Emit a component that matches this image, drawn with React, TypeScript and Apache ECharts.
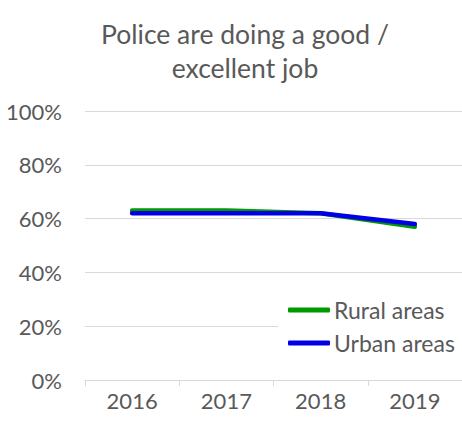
import React, { useEffect, useRef } from "react";
import * as echarts from "echarts";

const years = ["2016", "2017", "2018", "2019"];
const rural = [0.63, 0.63, 0.62, 0.57];
const urban = [0.62, 0.62, 0.62, 0.58];
const titleText = "Police are doing a good /\nexcellent job";

const FONT = "Lato, 'Noto Sans', sans-serif";
const GREY = "#595959";

export default function App() {
  const ref = useRef<HTMLDivElement>(null);
  useEffect(() => {
    const chart = echarts.init(ref.current!, null, { renderer: "svg" });
    chart.setOption({
      animation: false,
      backgroundColor: "#ffffff",
      title: {
        text: titleText,
        left: 240,
        textAlign: "center",
        top: 12,
        textStyle: { fontFamily: FONT, fontSize: 26.5, fontWeight: "normal", color: GREY, lineHeight: 34 },
      },
      grid: { left: 85, top: 111, width: 378, height: 269 },
      legend: {
        orient: "vertical",
        left: 278,
        top: 294,
        padding: [2, 10, 2, 10],
        backgroundColor: "#ffffff",
        itemWidth: 42,
        itemHeight: 5,
        itemGap: 5,
        icon: "roundRect",
        textStyle: { fontFamily: FONT, fontSize: 23, lineHeight: 28, color: GREY, padding: [0, 0, 0, -1] },
        data: ["Rural areas", "Urban areas"],
      },
      xAxis: {
        type: "category",
        data: years,
        boundaryGap: true,
        axisLine: { lineStyle: { color: "#d9d9d9", width: 1 } },
        axisTick: { show: true, length: 6, lineStyle: { color: "#d9d9d9" } },
        axisLabel: { fontFamily: FONT, fontSize: 22, color: GREY, margin: 9 },
      },
      yAxis: {
        type: "value",
        min: 0,
        max: 1,
        interval: 0.2,
        axisLine: { show: false },
        axisTick: { show: false },
        splitLine: { lineStyle: { color: "#d9d9d9", width: 1 } },
        axisLabel: {
          fontFamily: FONT,
          fontSize: 22,
          color: GREY,
          margin: 23,
          formatter: (v: number) => Math.round(v * 100) + "%",
        },
      },
      series: [
        {
          name: "Rural areas",
          type: "line",
          data: rural,
          symbol: "none",
          lineStyle: { color: "#009900", width: 4.5, cap: "round" },
          itemStyle: { color: "#009900" },
        },
        {
          name: "Urban areas",
          type: "line",
          data: urban,
          symbol: "none",
          lineStyle: { color: "#0000e6", width: 4.5, cap: "round" },
          itemStyle: { color: "#0000e6" },
        },
      ],
    });
    return () => chart.dispose();
  }, []);
  return (
    <div
      ref={ref}
      style={{ position: "fixed", left: 0, top: 0, width: 462, height: 428 }}
    />
  );
}
